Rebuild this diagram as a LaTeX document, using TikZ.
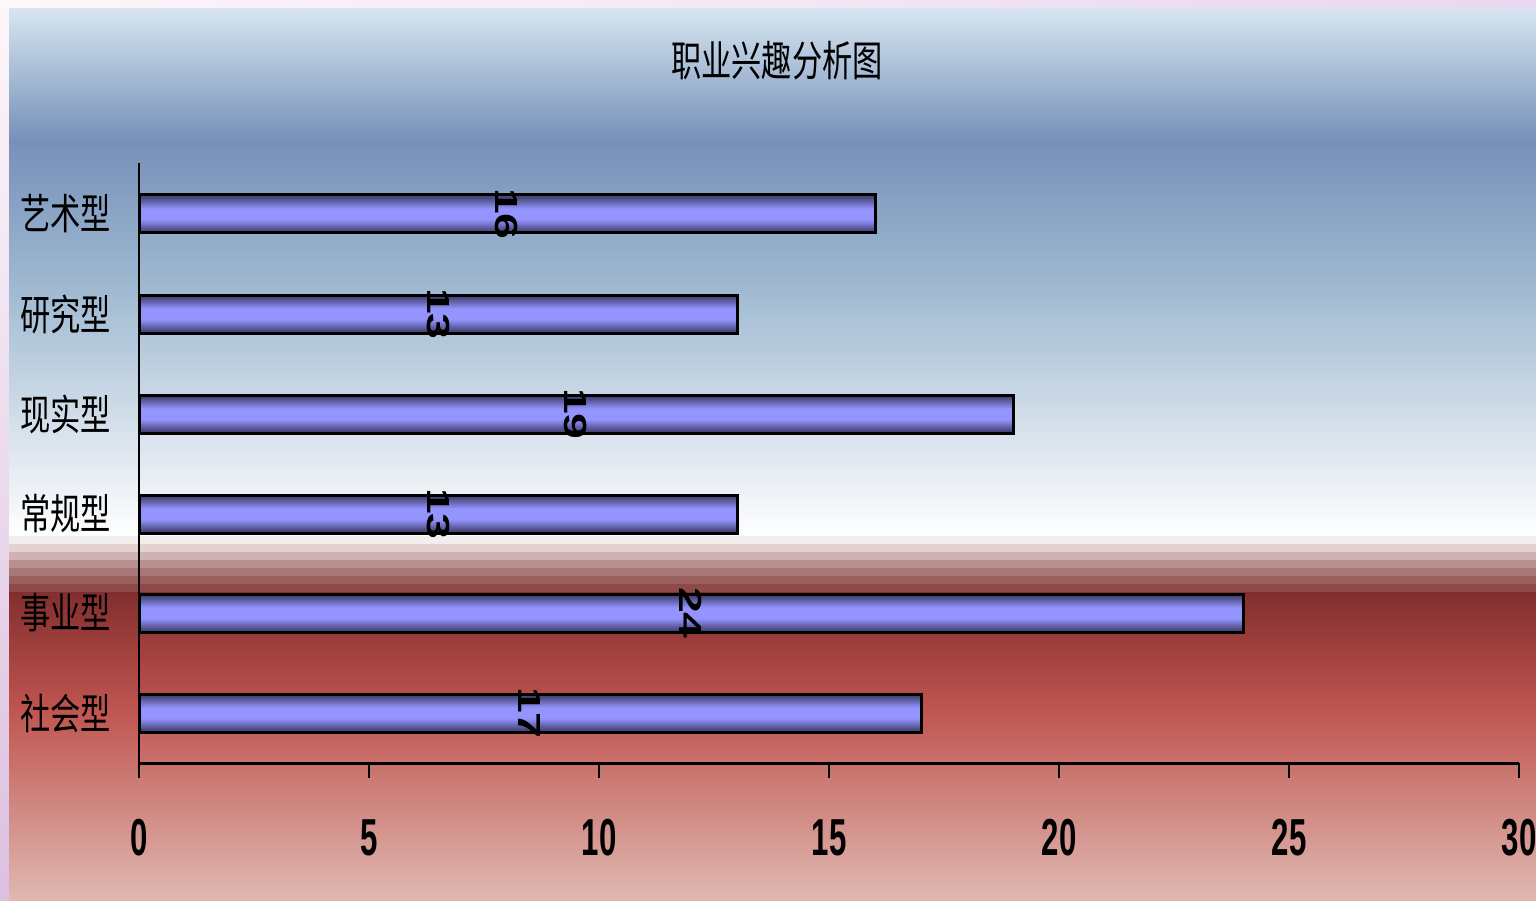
\documentclass[tikz,border=0pt]{standalone}
\usepackage{fontspec}
\setmainfont{Liberation Sans}
\newfontfamily\cjk{Noto Sans CJK SC}
\usepackage{graphicx}
\usepackage{tikz}
\usetikzlibrary{positioning}
\usetikzlibrary{calc}

\definecolor{framea}{HTML}{FDF7FA}
\definecolor{frameb}{HTML}{EAD6F0}
\definecolor{framec}{HTML}{DCC0E0}
\definecolor{bgtop}{HTML}{D6E5F0}
\definecolor{bgdeep}{HTML}{7690B9}
\definecolor{bgmid}{HTML}{A4BDD4}
\definecolor{redtop}{HTML}{822E2E}
\definecolor{redmid}{HTML}{C05550}
\definecolor{redlow}{HTML}{E0B9B2}
\definecolor{bardark}{HTML}{46467A}
\definecolor{barlight}{HTML}{9494FF}

% dark edges, light band in the middle
\pgfdeclareverticalshading{barshade}{100bp}{color(0bp)=(bardark); color(28bp)=(bardark);
    color(43bp)=(barlight); color(57bp)=(barlight); color(72bp)=(bardark); color(100bp)=(bardark)}

\begin{document}
\begin{tikzpicture}[x=1pt,y=-1pt]
    \useasboundingbox (0,0) rectangle (1536,901);

    % frame strips on the top and on the left
    \shade[left color=framea, right color=frameb] (0,0) rectangle (1536,9);
    \shade[top color=framea, bottom color=framec] (0,0) rectangle (9,901);

    % background: blue sky above, red below
    \shade[top color=bgtop, bottom color=bgdeep] (9,9) rectangle (1536,141);
    \shade[top color=bgdeep, bottom color=bgmid] (9,140) rectangle (1536,301);
    \shade[top color=bgmid, bottom color=white] (9,300) rectangle (1536,537);
    \fill[color={rgb,255:red,243;green,238;blue,238}] (9,536) rectangle (1536,544);
    \fill[color={rgb,255:red,226;green,210;blue,210}] (9,544) rectangle (1536,552);
    \fill[color={rgb,255:red,208;green,178;blue,178}] (9,552) rectangle (1536,560);
    \fill[color={rgb,255:red,185;green,144;blue,144}] (9,560) rectangle (1536,568);
    \fill[color={rgb,255:red,168;green,120;blue,120}] (9,568) rectangle (1536,576);
    \fill[color={rgb,255:red,154;green,96;blue,94}]   (9,576) rectangle (1536,584);
    \fill[color={rgb,255:red,142;green,74;blue,72}]   (9,584) rectangle (1536,592);
    \shade[top color=redtop, bottom color=redmid] (9,592) rectangle (1536,711);
    \shade[top color=redmid, bottom color=redlow] (9,710) rectangle (1536,901);

    % x of the value 0, pixels per unit and half bar height
    \def\xo{139}
    \def\unit{46}
    \def\hb{19}

    \tikzset{
        bar/.style={draw=black, line width=3pt, shade, shading=barshade},
        val/.style={rotate=-90, inner sep=0pt, font=\bfseries\fontsize{32}{32}\selectfont},
        cat/.style={inner sep=0pt, font=\cjk\fontsize{42}{42}\selectfont},
        num/.style={inner sep=0pt, font=\bfseries\fontsize{52}{52}\selectfont},
        axis/.style={black, line width=2.2pt}
    }

    % title
    \node[cat] (title) at (777,61) {\scalebox{0.72}[1]{职业兴趣分析图}};

    % bars
    \path[bar] (\xo,214-\hb) rectangle (\xo+16*\unit,214+\hb);
    \path[bar] (\xo,314-\hb) rectangle (\xo+13*\unit,314+\hb);
    \path[bar] (\xo,414-\hb) rectangle (\xo+19*\unit,414+\hb);
    \path[bar] (\xo,514-\hb) rectangle (\xo+13*\unit,514+\hb);
    \path[bar] (\xo,613-\hb) rectangle (\xo+24*\unit,613+\hb);
    \path[bar] (\xo,713-\hb) rectangle (\xo+17*\unit,713+\hb);

    % values, halfway along each bar
    \node[val] (v1) at (\xo+8*\unit,214)    {\scalebox{1.45}[1]{16}};
    \node[val] (v2) at (\xo+6.5*\unit,314)  {\scalebox{1.45}[1]{13}};
    \node[val] (v3) at (\xo+9.5*\unit,414)  {\scalebox{1.45}[1]{19}};
    \node[val] (v4) at (\xo+6.5*\unit,514)  {\scalebox{1.45}[1]{13}};
    \node[val] (v5) at (\xo+12*\unit,613)   {\scalebox{1.45}[1]{24}};
    \node[val] (v6) at (\xo+8.5*\unit,713)  {\scalebox{1.45}[1]{17}};

    % axes
    \coordinate (top)    at (\xo,163);
    \coordinate (origin) at (\xo,763);
    \coordinate (end)    at (\xo+30*\unit,763);
    \draw[axis] (top) -- ($(origin)+(0,15)$);
    \draw[axis, line width=3pt] (origin) -- (end);
    \draw[axis] (\xo+5*\unit,763)  -- (\xo+5*\unit,778);
    \draw[axis] (\xo+10*\unit,763) -- (\xo+10*\unit,778);
    \draw[axis] (\xo+15*\unit,763) -- (\xo+15*\unit,778);
    \draw[axis] (\xo+20*\unit,763) -- (\xo+20*\unit,778);
    \draw[axis] (\xo+25*\unit,763) -- (\xo+25*\unit,778);
    \draw[axis] (end) -- ($(end)+(0,15)$);

    % category labels left of the axis
    \coordinate (c1) at (\xo,214);
    \coordinate (c2) at (\xo,314);
    \coordinate (c3) at (\xo,414);
    \coordinate (c4) at (\xo,514);
    \coordinate (c5) at (\xo,613);
    \coordinate (c6) at (\xo,713);
    \node[cat, left=28pt of c1] (art)  {\scalebox{0.72}[1]{艺术型}};
    \node[cat, left=28pt of c2] (inv)  {\scalebox{0.72}[1]{研究型}};
    \node[cat, left=28pt of c3] (real) {\scalebox{0.72}[1]{现实型}};
    \node[cat, left=28pt of c4] (conv) {\scalebox{0.72}[1]{常规型}};
    \node[cat, left=28pt of c5] (ent)  {\scalebox{0.72}[1]{事业型}};
    \node[cat, left=28pt of c6] (soc)  {\scalebox{0.72}[1]{社会型}};

    % tick labels
    \node[num] (n0)  at (\xo,838)           {\scalebox{0.6}[1]{0}};
    \node[num] (n5)  at (\xo+5*\unit,838)   {\scalebox{0.6}[1]{5}};
    \node[num] (n10) at (\xo+10*\unit,838)  {\scalebox{0.6}[1]{10}};
    \node[num] (n15) at (\xo+15*\unit,838)  {\scalebox{0.6}[1]{15}};
    \node[num] (n20) at (\xo+20*\unit,838)  {\scalebox{0.6}[1]{20}};
    \node[num] (n25) at (\xo+25*\unit,838)  {\scalebox{0.6}[1]{25}};
    \node[num] (n30) at (\xo+30*\unit,838)  {\scalebox{0.6}[1]{30}};
\end{tikzpicture}
\end{document}
